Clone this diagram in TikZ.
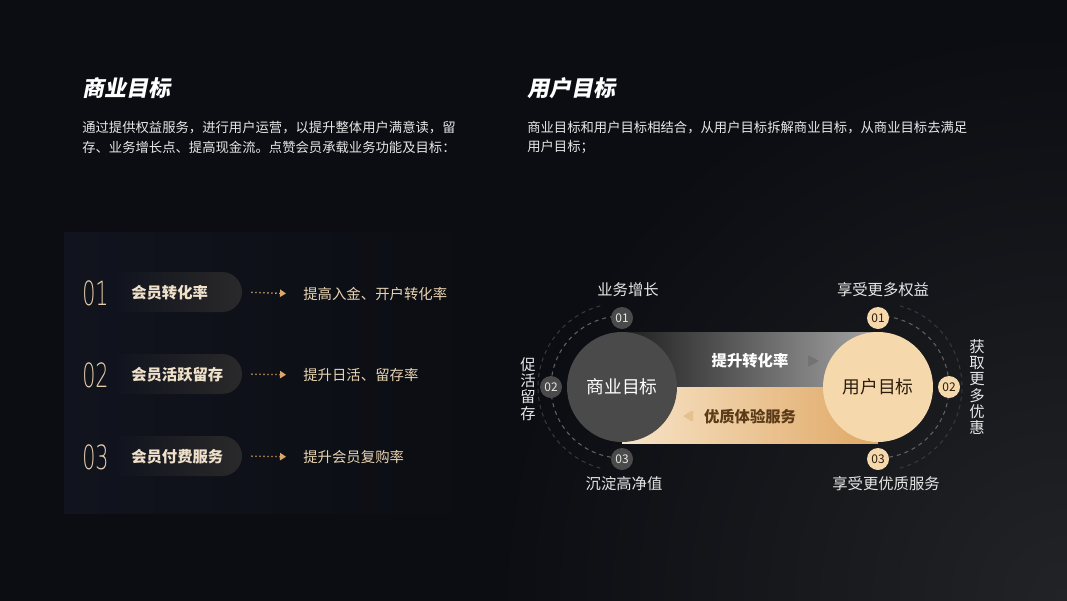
\documentclass[tikz,border=0pt]{standalone}
\usepackage{fontspec}
\setmainfont{Noto Sans CJK SC}
\newfontfamily\titlefont[FakeSlant=0.2]{Noto Sans CJK SC}
\newfontfamily\digitfont[FakeStretch=0.62]{DejaVuSans-ExtraLight.ttf}
\usetikzlibrary{shapes.misc,arrows.meta}
\definecolor{bgc}{HTML}{0B0D12}
\definecolor{glowc}{HTML}{222326}
\definecolor{panelc}{HTML}{11141E}
\definecolor{pillc}{HTML}{2A292A}
\definecolor{txt}{HTML}{E6E6E6}
\definecolor{cream}{HTML}{F0E1CA}
\definecolor{gold}{HTML}{E6CFA9}
\definecolor{arrowc}{HTML}{DCA766}
\definecolor{darkc}{HTML}{4A4A4A}
\definecolor{lightc}{HTML}{F6D8AD}
\definecolor{brownc}{HTML}{2B1C0C}
\definecolor{bandl}{HTML}{F7E4C8}
\definecolor{bandr}{HTML}{E0A865}
\definecolor{bandtxt}{HTML}{5A3A18}
\definecolor{tipc}{HTML}{E6C190}
\pgfdeclareradialshading{glow}{\pgfpoint{0bp}{0bp}}{color(0bp)=(glowc); color(11bp)=(bgc); color(50bp)=(bgc)}
\begin{document}
\begin{tikzpicture}[x=0.75pt, y=-0.75pt, every node/.style={inner sep=0pt,text=txt}]
  \tikzstyle{head}=[anchor=west,font=\titlefont\bfseries\fontsize{16.5}{20}\selectfont,text=white]
  \tikzstyle{para}=[anchor=west,font=\fontsize{10}{12}\selectfont]
  \tikzstyle{idx}=[anchor=west,font=\digitfont\fontsize{25}{27}\selectfont,text=gold]
  \tikzstyle{pill}=[rounded rectangle,rounded rectangle left arc=none,minimum width=93.75pt,minimum height=30pt,left color=panelc,right color=pillc]
  \tikzstyle{item}=[anchor=west,font=\bfseries\fontsize{11.5}{13}\selectfont,text=cream]
  \tikzstyle{goal}=[anchor=west,font=\fontsize{10.8}{13}\selectfont,text=gold!90!white]
  \tikzstyle{dotarrow}=[draw=arrowc,dotted,line width=1pt,shorten <=6.75pt,shorten >=12.75pt,-{Triangle[width=5.5pt,length=4.5pt]}]
  \tikzstyle{bigc}=[circle,minimum size=82.5pt,font=\fontsize{13.3}{15}\selectfont]
  \tikzstyle{badge}=[circle,minimum size=16.5pt,font=\fontsize{9}{10}\selectfont]
  \tikzstyle{band}=[font=\bfseries\fontsize{11.5}{13}\selectfont]
  \tikzstyle{lab}=[font=\fontsize{11.5}{12.2}\selectfont,align=center]
  \tikzstyle{ring}=[dashed,dash pattern=on 3pt off 3pt,line width=0.8pt]

  \fill[bgc] (0,0) rectangle (1067,600);
  \useasboundingbox (0,0) rectangle (1067,600);
  \begin{scope}
    \clip (0,0) rectangle (1067,600);
    \shade[shading=glow] (1067,600) circle (1300);
  \end{scope}
  \shade[left color=panelc,right color=bgc] (64,232) rectangle (480,513);

  \node[head] (h1) at (82,88) {商业目标};
  \node[head] (h2) at (527,88) {用户目标};
  \node[para] (d1) at (82,128) {通过提供权益服务，进行用户运营，以提升整体用户满意读，留};
  \node[para] (d2) at (82,147) {存、业务增长点、提高现金流。点赞会员承载业务功能及目标：};
  \node[para] (d3) at (527,128) {商业目标和用户目标相结合，从用户目标拆解商业目标，从商业目标去满足};
  \node[para] (d4) at (527,147) {用户目标；};

  \node[pill] (p1) at (179.5,292) {};
  \node[pill] (p2) at (179.5,374) {};
  \node[pill] (p3) at (179.5,456) {};
  \node[idx] (n1) at (82,293) {01};
  \node[idx] (n2) at (82,375) {02};
  \node[idx] (n3) at (82,457) {03};
  \node[item] (i1) at (131,293) {会员转化率};
  \node[item] (i2) at (131,375) {会员活跃留存};
  \node[item] (i3) at (131,457) {会员付费服务};
  \node[goal] (g1) at (303,294) {提高入金、开户转化率};
  \node[goal] (g2) at (303,375) {提升日活、留存率};
  \node[goal] (g3) at (303,457) {提升会员复购率};
  \draw[dotarrow] (p1.east) -- (g1.west);
  \draw[dotarrow] (p2.east) -- (g2.west);
  \draw[dotarrow] (p3.east) -- (g3.west);

  \shade[left color=black!88,right color=black!35] (622,332) rectangle (878,387);
  \shade[left color=bandl,right color=bandr] (622,387) rectangle (878,443);
  \node[bigc,fill=darkc,text=white] (bz) at (622,387) {商业目标};
  \node[bigc,fill=lightc,text=brownc] (yh) at (878,387) {用户目标};
  \node[band,text=white] (t1) at (750,361) {提升转化率};
  \node[band,text=bandtxt] (t2) at (750,417) {优质体验服务};
  \fill[black!55,rounded corners=0.8pt] (808,355) -- (819,361) -- (808,367) -- cycle;
  \fill[tipc,rounded corners=0.8pt] (693,410) -- (683,416) -- (693,422) -- cycle;

  \draw[ring,draw=black!62] (bz.center) ++(0,-71) arc[start angle=270,end angle=90,radius=71];
  \draw[ring,draw=black!78] (bz.center) ++(255:84) arc[start angle=255,end angle=105,radius=84];
  \draw[ring,draw=black!62] (yh.center) ++(0,-71) arc[start angle=-90,end angle=90,radius=71];
  \draw[ring,draw=black!78] (yh.center) ++(-75:84) arc[start angle=-75,end angle=75,radius=84];
  \node[badge,fill=darkc] (a1) at (622,318) {01};
  \node[badge,fill=darkc] (a2) at (551,387) {02};
  \node[badge,fill=darkc] (a3) at (622,459) {03};
  \node[badge,fill=lightc,text=brownc] (c1) at (878,318) {01};
  \node[badge,fill=lightc,text=brownc] (c2) at (949,387) {02};
  \node[badge,fill=lightc,text=brownc] (c3) at (878,459) {03};

  \node[lab] (l1) at (628,290) {业务增长};
  \node[lab] (l2) at (528,389) {促\\活\\留\\存};
  \node[lab] (l3) at (624,484) {沉淀高净值};
  \node[lab] (r1) at (883,290) {享受更多权益};
  \node[lab] (r2) at (977,387) {获\\取\\更\\多\\优\\惠};
  \node[lab] (r3) at (886,484) {享受更优质服务};
\end{tikzpicture}
\end{document}
